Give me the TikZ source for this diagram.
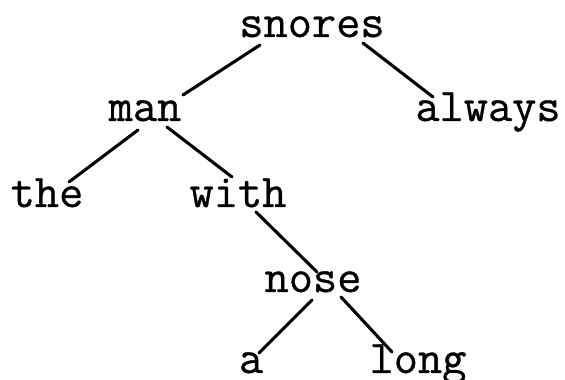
\documentclass[tikz,border=0pt]{standalone}
\usepackage{fontspec}
\setmonofont[FakeBold=0.7]{Latin Modern Mono}
\begin{document}
\begin{tikzpicture}[x=1pt,y=1pt,
  word/.style={anchor=base,inner sep=0pt,font=\ttfamily\fontsize{47}{50}\selectfont},
  edge/.style={line width=3.1pt,line cap=round}]
\useasboundingbox (0,0) rectangle (565,380);
\node[word] (snores) at (312,343) {snores};
\node[word] (man)    at (145,259) {man};
\node[word] (always) at (488,259) {always};
\node[word] (the)    at (47,173)  {the};
\node[word] (with)   at (238,173) {with};
\node[word] (nose)   at (313,88)  {nose};
\node[word] (a)      at (251,7)   {a};
\node[word] (long)   at (418,7)   {long};
\draw[edge] ([shift={(-52,-8)}]snores.base) -- ([shift={(38,26)}]man.base);
\draw[edge] ([shift={(51,-6)}]snores.base) -- ([shift={(-55,24)}]always.base);
\draw[edge] ([shift={(-7,-9)}]man.base) -- ([shift={(22,25)}]the.base);
\draw[edge] ([shift={(22,-6)}]man.base) -- ([shift={(-6,30)}]with.base);
\draw[edge] ([shift={(18,-5)}]with.base) -- ([shift={(4,20)}]nose.base);
\draw[edge] ([shift={(-1,-8)}]nose.base) -- ([shift={(8,20)}]a.base);
\draw[edge] ([shift={(28,-5)}]nose.base) -- ([shift={(-26,21)}]long.base);
\end{tikzpicture}
\end{document}
